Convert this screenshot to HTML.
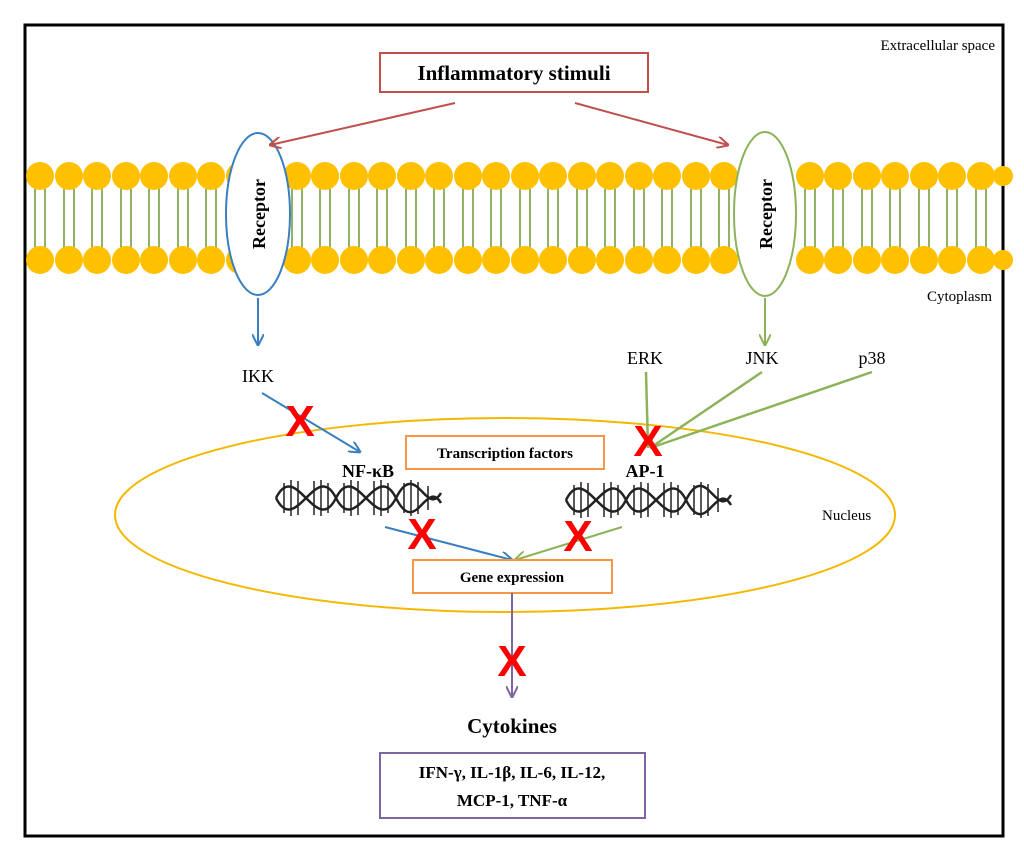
<!DOCTYPE html>
<html><head><meta charset="utf-8"><style>
body{margin:0;background:#fff}
svg text{font-family:"Liberation Serif",serif}
svg text.x{font-family:"Liberation Sans",sans-serif;font-weight:bold;fill:#ff0000;font-size:44px}
</style></head><body>
<svg width="1024" height="857" viewBox="0 0 1024 857">
<defs>
<marker id="aR" markerWidth="12" markerHeight="12" refX="11" refY="6" orient="auto" markerUnits="userSpaceOnUse"><path d="M0,0 L12,6 L0,12" fill="none" stroke="#c0504d" stroke-width="2"/></marker>
<marker id="aB" markerWidth="12" markerHeight="12" refX="11" refY="6" orient="auto" markerUnits="userSpaceOnUse"><path d="M0,0 L12,6 L0,12" fill="none" stroke="#3a7fbf" stroke-width="2"/></marker>
<marker id="aG" markerWidth="12" markerHeight="12" refX="11" refY="6" orient="auto" markerUnits="userSpaceOnUse"><path d="M0,0 L12,6 L0,12" fill="none" stroke="#8db35a" stroke-width="2"/></marker>
<marker id="aP" markerWidth="12" markerHeight="12" refX="11" refY="6" orient="auto" markerUnits="userSpaceOnUse"><path d="M0,0 L12,6 L0,12" fill="none" stroke="#8064a2" stroke-width="2"/></marker>
<g id="dna" fill="none" stroke="#222" stroke-width="2.5">
<path d="M0,20 C20,-20 40,60 60,20 C80,-20 100,60 120,20 C140,-20 150,40 165,15"/>
<path d="M0,20 C20,60 40,-20 60,20 C80,60 100,-20 120,20 C140,60 150,0 165,25"/>
<g stroke-width="1.5"><path d="M8,5V35M15,2V38M22,3V37M38,3V37M45,2V38M52,5V35M68,5V35M75,2V38M82,3V37M98,3V37M105,2V38M112,5V35M128,5V35M135,2V38M142,4V36M152,8V32"/></g>
</g>
</defs>
<rect x="25" y="25" width="978" height="811" fill="#fff" stroke="#000" stroke-width="3"/>
<text x="995" y="50" font-size="15" text-anchor="end">Extracellular space</text>
<text x="992" y="301" font-size="15" text-anchor="end">Cytoplasm</text>
<text x="822" y="520" font-size="15">Nucleus</text>
<g stroke="#77a03d" stroke-width="1.6">
<path d="M35,188V248M45,188V248M64,188V248M74,188V248M92,188V248M102,188V248M121,188V248M131,188V248M149,188V248M159,188V248M178,188V248M188,188V248M206,188V248M216,188V248M292,188V248M302,188V248M320,188V248M330,188V248M349,188V248M359,188V248M377,188V248M387,188V248M406,188V248M416,188V248M434,188V248M444,188V248M463,188V248M473,188V248M491,188V248M501,188V248M520,188V248M530,188V248M548,188V248M558,188V248M577,188V248M587,188V248M605,188V248M615,188V248M634,188V248M644,188V248M662,188V248M672,188V248M691,188V248M701,188V248M719,188V248M729,188V248M805,188V248M815,188V248M833,188V248M843,188V248M862,188V248M872,188V248M890,188V248M900,188V248M919,188V248M929,188V248M947,188V248M957,188V248M976,188V248M986,188V248"/>
</g>
<g fill="#ffc000">
<circle cx="40" cy="176" r="14"/><circle cx="69" cy="176" r="14"/><circle cx="97" cy="176" r="14"/><circle cx="126" cy="176" r="14"/><circle cx="154" cy="176" r="14"/><circle cx="183" cy="176" r="14"/><circle cx="211" cy="176" r="14"/><circle cx="240" cy="176" r="14"/><circle cx="297" cy="176" r="14"/><circle cx="325" cy="176" r="14"/><circle cx="354" cy="176" r="14"/><circle cx="382" cy="176" r="14"/><circle cx="411" cy="176" r="14"/><circle cx="439" cy="176" r="14"/><circle cx="468" cy="176" r="14"/><circle cx="496" cy="176" r="14"/><circle cx="525" cy="176" r="14"/><circle cx="553" cy="176" r="14"/><circle cx="582" cy="176" r="14"/><circle cx="610" cy="176" r="14"/><circle cx="639" cy="176" r="14"/><circle cx="667" cy="176" r="14"/><circle cx="696" cy="176" r="14"/><circle cx="724" cy="176" r="14"/><circle cx="810" cy="176" r="14"/><circle cx="838" cy="176" r="14"/><circle cx="867" cy="176" r="14"/><circle cx="895" cy="176" r="14"/><circle cx="924" cy="176" r="14"/><circle cx="952" cy="176" r="14"/><circle cx="981" cy="176" r="14"/><circle cx="1003" cy="176" r="10"/>
<circle cx="40" cy="260" r="14"/><circle cx="69" cy="260" r="14"/><circle cx="97" cy="260" r="14"/><circle cx="126" cy="260" r="14"/><circle cx="154" cy="260" r="14"/><circle cx="183" cy="260" r="14"/><circle cx="211" cy="260" r="14"/><circle cx="240" cy="260" r="14"/><circle cx="297" cy="260" r="14"/><circle cx="325" cy="260" r="14"/><circle cx="354" cy="260" r="14"/><circle cx="382" cy="260" r="14"/><circle cx="411" cy="260" r="14"/><circle cx="439" cy="260" r="14"/><circle cx="468" cy="260" r="14"/><circle cx="496" cy="260" r="14"/><circle cx="525" cy="260" r="14"/><circle cx="553" cy="260" r="14"/><circle cx="582" cy="260" r="14"/><circle cx="610" cy="260" r="14"/><circle cx="639" cy="260" r="14"/><circle cx="667" cy="260" r="14"/><circle cx="696" cy="260" r="14"/><circle cx="724" cy="260" r="14"/><circle cx="810" cy="260" r="14"/><circle cx="838" cy="260" r="14"/><circle cx="867" cy="260" r="14"/><circle cx="895" cy="260" r="14"/><circle cx="924" cy="260" r="14"/><circle cx="952" cy="260" r="14"/><circle cx="981" cy="260" r="14"/><circle cx="1003" cy="260" r="10"/>
</g>
<ellipse cx="258" cy="214" rx="32" ry="81" fill="#fff" stroke="#3a7fbf" stroke-width="2"/>
<ellipse cx="765" cy="214" rx="31" ry="82" fill="#fff" stroke="#8db35a" stroke-width="2"/>
<text transform="translate(265,214) rotate(-90)" font-size="18" font-weight="bold" text-anchor="middle">Receptor</text>
<text transform="translate(772,214) rotate(-90)" font-size="18" font-weight="bold" text-anchor="middle">Receptor</text>
<rect x="380" y="53" width="268" height="39" fill="#fff" stroke="#c0504d" stroke-width="2"/>
<text x="514" y="80" font-size="21" font-weight="bold" text-anchor="middle">Inflammatory stimuli</text>
<line x1="455" y1="103" x2="270" y2="145" stroke="#c0504d" stroke-width="2" marker-end="url(#aR)"/>
<line x1="575" y1="103" x2="728" y2="145" stroke="#c0504d" stroke-width="2" marker-end="url(#aR)"/>
<ellipse cx="505" cy="515" rx="390" ry="97" fill="none" stroke="#f5b800" stroke-width="2"/>
<line x1="258" y1="298" x2="258" y2="345" stroke="#3a7fbf" stroke-width="2" marker-end="url(#aB)"/>
<line x1="765" y1="298" x2="765" y2="345" stroke="#8db35a" stroke-width="2" marker-end="url(#aG)"/>
<text x="258" y="382" font-size="18" text-anchor="middle">IKK</text>
<text x="645" y="364" font-size="18" text-anchor="middle">ERK</text>
<text x="762" y="364" font-size="18" text-anchor="middle">JNK</text>
<text x="872" y="364" font-size="18" text-anchor="middle">p38</text>
<line x1="262" y1="393" x2="360" y2="452" stroke="#3a7fbf" stroke-width="2" marker-end="url(#aB)"/>
<g stroke="#8db35a" stroke-width="2.5" fill="none">
<path d="M646,372 L648,448"/><path d="M762,372 L650,448"/><path d="M872,372 L650,448"/>
</g>
<rect x="406" y="436" width="198" height="33" fill="#fff" stroke="#f79646" stroke-width="2"/>
<text x="505" y="458" font-size="15" font-weight="bold" text-anchor="middle">Transcription factors</text>
<use href="#dna" x="276" y="478"/>
<use href="#dna" x="566" y="480"/>
<text x="368" y="477" font-size="18" font-weight="bold" text-anchor="middle">NF-κB</text>
<text x="645" y="477" font-size="18" font-weight="bold" text-anchor="middle">AP-1</text>
<line x1="385" y1="527" x2="512" y2="560" stroke="#3a7fbf" stroke-width="2" marker-end="url(#aB)"/>
<line x1="622" y1="527" x2="515" y2="560" stroke="#8db35a" stroke-width="2" marker-end="url(#aG)"/>
<rect x="413" y="560" width="199" height="33" fill="#fff" stroke="#f79646" stroke-width="2"/>
<text x="512" y="582" font-size="15" font-weight="bold" text-anchor="middle">Gene expression</text>
<line x1="512" y1="593" x2="512" y2="697" stroke="#8064a2" stroke-width="2" marker-end="url(#aP)"/>
<text x="512" y="733" font-size="21" font-weight="bold" text-anchor="middle">Cytokines</text>
<rect x="380" y="753" width="265" height="65" fill="#fff" stroke="#8064a2" stroke-width="2"/>
<text x="512" y="778" font-size="17" font-weight="bold" text-anchor="middle">IFN-γ, IL-1β, IL-6, IL-12,</text>
<text x="512" y="806" font-size="17" font-weight="bold" text-anchor="middle">MCP-1, TNF-α</text>
<text class="x" x="300" y="436" text-anchor="middle">X</text>
<text class="x" x="648" y="456" text-anchor="middle">X</text>
<text class="x" x="422" y="549" text-anchor="middle">X</text>
<text class="x" x="578" y="551" text-anchor="middle">X</text>
<text class="x" x="512" y="676" text-anchor="middle">X</text>
</svg>
</body></html>
